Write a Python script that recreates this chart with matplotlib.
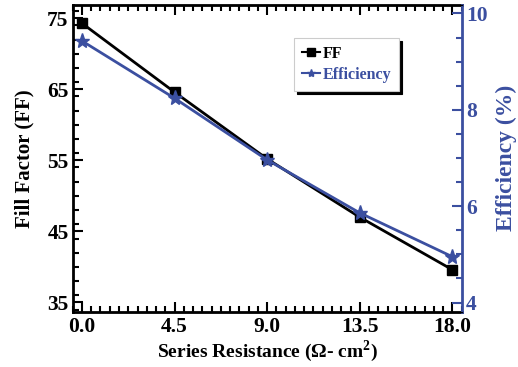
import numpy as np
import matplotlib
matplotlib.use("Agg")
import matplotlib.pyplot as plt
from matplotlib.ticker import MultipleLocator

# data
resistance = [0.0, 4.5, 9.0, 13.5, 18.0]
fill_factor = [74.3, 64.6, 55.2, 47.0, 39.6]
efficiency = [9.43, 8.24, 6.96, 5.86, 4.95]

x_ticks = [0.0, 4.5, 9.0, 13.5, 18.0]
ff_ticks = [35, 45, 55, 65, 75]
eff_ticks = [4, 6, 8, 10]

blue = "#3b4fa0"
plt.rcParams["font.family"] = ["Liberation Serif", "DejaVu Serif"]
plt.rcParams["font.weight"] = "bold"
plt.rcParams["mathtext.fontset"] = "custom"
plt.rcParams["mathtext.rm"] = "Liberation Serif:bold"
plt.rcParams["mathtext.bf"] = "Liberation Serif:bold"

fig = plt.figure(figsize=(5.18, 3.67), dpi=100)
ax = fig.add_axes([0.1403, 0.1507, 0.751, 0.8363])
ax2 = ax.twinx()

l1, = ax.plot(resistance, fill_factor, color="black", lw=2, marker="s", ms=7,
              label="FF")
l2, = ax2.plot(resistance, efficiency, color=blue, lw=2, marker="*", ms=11,
               label="Efficiency")

ax.set_xlim(-0.45, 18.45)
ax.set_ylim(33.7, 76.9)
ax2.set_ylim(3.81, 10.18)

ax.set_xticks(x_ticks)
ax.set_xticklabels([f"{v:.1f}" for v in x_ticks])
ax.set_yticks(ff_ticks)
ax2.set_yticks(eff_ticks)
ax.xaxis.set_minor_locator(MultipleLocator(0.45))
ax.yaxis.set_minor_locator(MultipleLocator(2))
ax2.yaxis.set_minor_locator(MultipleLocator(0.5))

ax.tick_params(axis="x", which="both", direction="in", top=True, width=1.5,
               labelsize=15.5, pad=4)
ax.tick_params(axis="x", which="major", length=7)
ax.tick_params(axis="x", which="minor", length=4)
ax.tick_params(axis="y", which="both", direction="in", width=1.5,
               labelsize=15.5, pad=3)
ax.tick_params(axis="y", which="major", length=7)
ax.tick_params(axis="y", which="minor", length=4)
ax2.tick_params(axis="y", which="both", direction="in", width=1.5, colors=blue,
                labelsize=15.5, pad=3)
ax2.tick_params(axis="y", which="major", length=7)
ax2.tick_params(axis="y", which="minor", length=4)

for s in ["left", "bottom", "top"]:
    ax.spines[s].set_linewidth(2)
ax2.spines["right"].set_color(blue)
ax2.spines["right"].set_linewidth(2)
ax2.spines["left"].set_visible(False)
ax.spines["right"].set_visible(False)

ax.set_xlabel("Series Resistance ($\\Omega$- cm$^2$)",
              fontsize=14, fontweight="bold", labelpad=1)
ax.set_ylabel("Fill Factor (FF)", fontsize=15, fontweight="bold", labelpad=9)
ax2.set_ylabel("Efficiency (%)", fontsize=17, fontweight="bold", color=blue,
               labelpad=6)

leg = ax2.legend(handles=[l1, l2], loc="upper left",
                 bbox_to_anchor=(294 / 518, 1 - 38 / 367),
                 bbox_transform=fig.transFigure, fontsize=11.5,
                 handlelength=1.1, handletextpad=0.2, borderpad=0.5,
                 labelspacing=0.3, borderaxespad=0, fancybox=False,
                 edgecolor="#cccccc", shadow={"color": "black", "alpha": 1})
leg.get_frame().set_linewidth(0.8)
for txt, c in zip(leg.get_texts(), ["black", blue]):
    txt.set_color(c)
    txt.set_fontweight("bold")
for h in leg.legend_handles:
    h.set_markersize(6)
    h.set_linewidth(1.5)

fig.savefig("out.png", dpi=100)
